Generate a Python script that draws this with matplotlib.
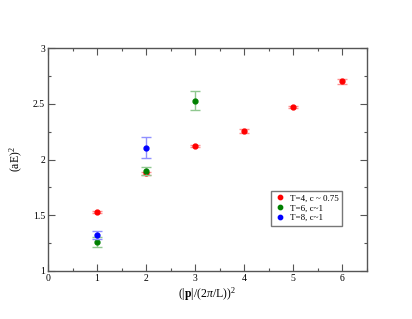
import matplotlib
matplotlib.use("Agg")
import matplotlib.pyplot as plt
from matplotlib.ticker import MultipleLocator

plt.rcParams["font.family"] = ["Liberation Serif", "DejaVu Serif"]
plt.rcParams["mathtext.fontset"] = "custom"
plt.rcParams["mathtext.rm"] = "Liberation Serif"
plt.rcParams["mathtext.it"] = "Liberation Serif:italic"
plt.rcParams["mathtext.bf"] = "Liberation Serif:bold"

# data
t4_x = [1, 2, 3, 4, 5, 6]
t4_y = [1.53, 1.876, 2.12, 2.26, 2.47, 2.70]
t4_err = [0.012, 0.012, 0.012, 0.018, 0.012, 0.022]

t6_x = [1, 2, 3]
t6_y = [1.26, 1.894, 2.527]
t6_err = [0.045, 0.035, 0.085]

t8_x = [1, 2]
t8_y = [1.325, 2.106]
t8_err = [0.035, 0.095]

labels = ["T=4, c ~ 0.75", "T=6, c~1", "T=8, c~1"]
colors = ["#ff0000", "#008000", "#0000ff"]
err_colors = ["#ff9090", "#90c890", "#9090ff"]

fig = plt.figure(figsize=(4.12, 3.19), dpi=100)
ax = fig.add_axes([0.1165, 0.1505, 0.7735, 0.699])

series = [(t4_x, t4_y, t4_err), (t6_x, t6_y, t6_err), (t8_x, t8_y, t8_err)]
for (xs, ys, es), lab, c, ec in zip(series, labels, colors, err_colors):
    ax.errorbar(xs, ys, yerr=es, fmt="none", ecolor=ec, elinewidth=1.0,
                capsize=3.5, capthick=1.0)
    ax.plot(xs, ys, "o", color=c, markersize=3.5, linestyle="none", label=lab)

ax.set_xlim(0, 6.5)
ax.set_ylim(1, 3)
ax.xaxis.set_major_locator(MultipleLocator(1))
ax.xaxis.set_minor_locator(MultipleLocator(0.5))
ax.yaxis.set_minor_locator(MultipleLocator(0.25))
ax.set_yticks([1, 1.5, 2, 2.5, 3])
ax.set_yticklabels(["1", "1.5", "2", "2.5", "3"])

ax.tick_params(which="both", direction="in", top=True, right=True,
               color="#555555", labelsize=7, pad=2)
ax.tick_params(which="major", length=5, width=0.8)
ax.tick_params(which="minor", length=2.5, width=0.8)
for s in ax.spines.values():
    s.set_color("#555555")
    s.set_linewidth(1.0)

ax.set_xlabel(r"$(|\mathbf{p}|/(2\pi/\mathrm{L}))^2$", fontsize=8.5, labelpad=2)
ax.set_ylabel(r"$(\mathrm{aE})^2$", fontsize=8.5, labelpad=6)

leg = ax.legend(loc="upper left", bbox_to_anchor=(0.70, 0.36), fontsize=6.5,
                frameon=True, fancybox=False, handletextpad=0.5,
                handlelength=1.2, borderpad=0.4, labelspacing=0.15,
                borderaxespad=0, markerscale=0.9)
leg.get_frame().set_edgecolor("#555555")
leg.get_frame().set_linewidth(1.0)

fig.savefig("out.png", dpi=100)
